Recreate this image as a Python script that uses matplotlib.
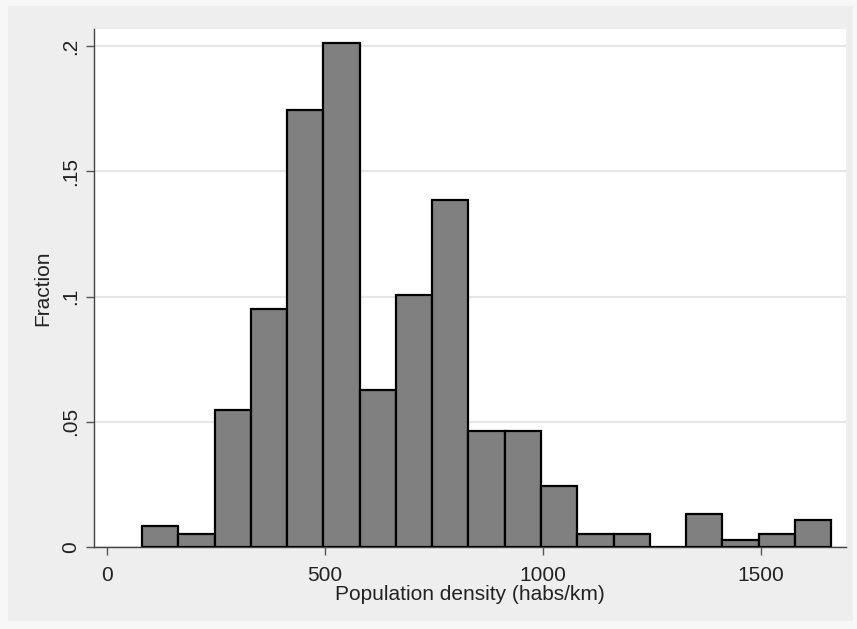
import matplotlib
matplotlib.use('Agg')
import matplotlib.pyplot as plt
from matplotlib.patches import Rectangle

plt.rcParams['font.family'] = ['Liberation Sans', 'DejaVu Sans']

# histogram bins (habs/km) and fraction per bin
bin_start = 80.3
bin_width = 83.15
fractions = [0.0084, 0.0053, 0.0546, 0.0952, 0.1743, 0.2012, 0.0628, 0.1006,
             0.1385, 0.0462, 0.0462, 0.0244, 0.0053, 0.0053, 0.0, 0.0133,
             0.0027, 0.0053, 0.0107]
x_ticks = [0, 500, 1000, 1500]
y_ticks = [0, 0.05, 0.1, 0.15, 0.2]
y_tick_labels = ['0', '.05', '.1', '.15', '.2']

W, H = 857, 629
fig = plt.figure(figsize=(W / 100, H / 100), dpi=100, facecolor='#f7f7f7')
# stata style grey graph region (drawn behind the axes)
fig.patches.append(Rectangle((8 / W, 1 - 621 / H), 845 / W, 615 / H,
                             transform=fig.transFigure, facecolor='#eeeeee',
                             edgecolor='none', zorder=-10))

ax = fig.add_axes([93.5 / W, 1 - 547 / H, (846 - 93.5) / W, (547 - 29) / H])
ax.set_facecolor('white')

lefts = [bin_start + i * bin_width for i in range(len(fractions))]
ax.bar(lefts, fractions, width=bin_width, align='edge', color='#808080',
       edgecolor='black', linewidth=1.6, zorder=3)

ax.set_xlim(-31.4, 1694.5)
ax.set_ylim(0, 0.2068)

ax.set_yticks(y_ticks)
ax.set_yticklabels(y_tick_labels, rotation=90, va='center')
ax.set_xticks(x_ticks)
ax.yaxis.grid(True, color='#e6e6e6', linewidth=1.5, zorder=0)
ax.set_axisbelow(True)

for s in ['top', 'right']:
    ax.spines[s].set_visible(False)
for s in ['left', 'bottom']:
    ax.spines[s].set_color('#444444')
    ax.spines[s].set_linewidth(1.0)

ax.tick_params(axis='both', direction='out', length=5.8, width=1.0,
               color='#555555', labelsize=15, labelcolor='#222222')
ax.tick_params(axis='y', pad=4)
ax.tick_params(axis='x', pad=8)

ax.set_xlabel('Population density (habs/km)', fontsize=15, color='#222222', labelpad=0)
ax.set_ylabel('Fraction', fontsize=15, color='#222222', labelpad=6)

plt.savefig('out.png', dpi=100, facecolor=fig.get_facecolor())
